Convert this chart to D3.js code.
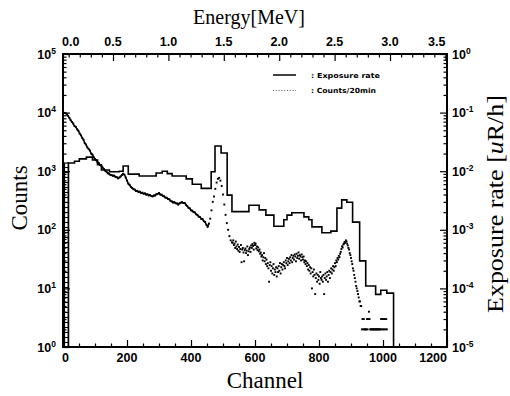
<!DOCTYPE html>
<html><head><meta charset="utf-8">
<script src="https://cdn.jsdelivr.net/npm/d3@7"></script>
<style>body{margin:0;background:#fff}svg{display:block}</style>
</head><body>
<svg id="c" width="510" height="396"></svg>
<script>
// ---------------- data ----------------
const channelTicks = [0, 200, 400, 600, 800, 1000, 1200];
const energyTicks = [0.0, 0.5, 1.0, 1.5, 2.0, 2.5, 3.0, 3.5];
const countDecades = [1, 10, 100, 1000, 10000, 100000];
const rateDecades = [1e-5, 1e-4, 1e-3, 1e-2, 1e-1, 1];
const calibOffset = 0.0487;   // MeV at channel 0
const calibGain = 0.002888;   // MeV per channel

// Exposure-rate histogram (uR/h), bin edges in channels
const rateEdges = [17, 36, 51, 73, 92, 108, 120, 145, 176, 188, 204, 238, 291, 310, 326, 341, 385, 404, 432, 463,
  475, 494, 513, 528, 581, 613, 634, 659, 690, 700, 715, 753, 768, 778, 809, 837, 856, 871, 887, 905, 927, 946,
  977, 993, 1012, 1033];
const rateValues = [1.38e-2, 1.48e-2, 1.62e-2, 1.74e-2, 1.55e-2, 1.29e-2, 1.05e-2, 9.8e-3, 1.0e-2, 1.23e-2,
  8.9e-3, 8.3e-3, 9.3e-3, 1.0e-2, 9.1e-3, 8.3e-3, 7.4e-3, 6.0e-3, 5.1e-3, 9.8e-3, 2.69e-2, 2.04e-2, 3.9e-3,
  2.04e-3, 2.63e-3, 2.19e-3, 1.78e-3, 1.15e-3, 1.48e-3, 1.78e-3, 1.95e-3, 1.66e-3, 1.48e-3, 1.12e-3, 8.9e-4,
  9.5e-4, 2.34e-3, 3.24e-3, 2.95e-3, 1.35e-3, 2.95e-4, 1.10e-4, 7.9e-5, 9.3e-5, 8.3e-5];

// Counts/20min: channels 0..528 every 4
const countsLowStart = 0, countsLowStep = 4;
const countsLow = [9600, 9900, 9800, 9300, 8800, 8100, 7400, 6900, 6500, 5900,
  5700, 5200, 4900, 4400, 4100, 3700, 3450, 3000, 2850, 2550,
  2400, 2250, 2000, 1920, 1730, 1620, 1540, 1410, 1370, 1280,
  1230, 1150, 1090, 1020, 980, 920, 905, 865, 855, 835,
  840, 800, 790, 755, 780, 810, 860, 905, 870, 780,
  690, 615, 585, 540, 520, 495, 485, 460, 462, 440,
  448, 425, 430, 412, 418, 398, 404, 385, 392, 376,
  372, 386, 384, 405, 410, 425, 400, 398, 380, 372,
  355, 352, 336, 332, 312, 305, 292, 296, 284, 282,
  270, 282, 290, 296, 286, 288, 268, 255, 238, 232,
  215, 212, 200, 198, 184, 180, 168, 165, 154, 152,
  140, 136, 122, 113, 128, 155, 215, 300, 370, 500,
  640, 740, 770, 690, 560, 400, 270, 180, 130, 100,
  78, 66, 61];
// channels 530..930 every 2
const countsMidStart = 530, countsMidStep = 2;
const countsMid = [60, 66, 55, 58, 49, 63, 52, 47, 56, 44,
  51, 42, 47, 55, 28, 46, 49, 41, 29, 45,
  48, 40, 44, 52, 37, 43, 47, 50, 42, 54,
  49, 57, 53, 46, 60, 55, 58, 48, 52, 45,
  50, 43, 46, 39, 41, 35, 37, 30, 34, 40,
  29, 33, 26, 31, 24, 27, 22, 13, 25, 28,
  20, 24, 18, 22, 26, 17, 21, 19, 23, 16,
  22, 19, 24, 20, 27, 18, 23, 26, 21, 25,
  28, 24, 22, 30, 27, 33, 25, 29, 32, 27,
  34, 30, 37, 28, 33, 36, 31, 38, 35, 29,
  39, 33, 36, 41, 32, 37, 35, 30, 38, 34,
  31, 35, 28, 30, 26, 29, 24, 27, 21, 25,
  20, 23, 18, 22, 10, 19, 16, 21, 17, 8,
  15, 18, 13, 17, 14, 16, 12, 19, 15, 14,
  16, 13, 17, 8, 15, 18, 14, 16, 19, 13,
  17, 20, 15, 19, 22, 18, 21, 24, 20, 23,
  27, 24, 30, 28, 33, 31, 36, 34, 39, 42,
  47, 52, 50, 56, 58, 62, 60, 66, 63, 58,
  54, 49, 46, 40, 37, 33, 29, 26, 22, 20,
  17, 15, 13, 11, 10, 9, 8, 7, 6, 6,
  5];
// channels 932..1012 every 2
const countsTailStart = 932, countsTailStep = 2;
const countsTail = [5, 2, 3, 2, 3, 2, 2, 2, 2, 3, 2, 3, 4, 3, 2, 2, 2, 2, 2, 2,
  2, 2, 2, 2, 2, 2, 2, 2, 2, 2, 2, 3, 2, 3, 2, 3, 2, 3, 2, 3, 2];

// ---------------- drawing ----------------
const M = {l: 63, r: 447, t: 54, b: 347};
const svg = d3.select('#c');
const x = d3.scaleLinear().domain([0, 1200]).range([M.l, M.r]);
const yC = d3.scaleLog().domain([1, 1e5]).range([M.b, M.t]);
const yR = d3.scaleLog().domain([1e-5, 1]).range([M.b, M.t]);
const E = ch => calibOffset + calibGain * ch;
const eScale = d3.scaleLinear().domain([E(0), E(1200)]).range([M.l, M.r]);

const tickFont = "'Liberation Sans', Arial, sans-serif";
const serif = "'Liberation Serif', 'Times New Roman', serif";

function styleAxis(g) {
  g.select('.domain').remove();
  g.selectAll('.tick line').attr('stroke', '#000').attr('stroke-width', 1.2);
  g.selectAll('.tick text').remove();
}

// minor tick helpers
const logMinor = decs => decs.slice(0, -1).flatMap(d => d3.range(2, 10).map(k => d * k));
const chMinor = d3.range(50, 1200, 50).filter(v => v % 200 !== 0);
const eMinor = d3.range(1, 36).map(v => v / 10).filter(v => v % 0.5 > 1e-6 && 0.5 - (v % 0.5) > 1e-6 && v > E(0) && v < E(1200));
const eMajor = energyTicks.filter(v => v > E(0) && v < E(1200));

// bottom axis
svg.append('g').attr('transform', `translate(0,${M.b})`)
  .call(d3.axisBottom(x).tickValues(channelTicks).tickSize(-7)).call(styleAxis);
svg.append('g').attr('transform', `translate(0,${M.b})`)
  .call(d3.axisBottom(x).tickValues(chMinor).tickSize(-3.5)).call(styleAxis);
// top axis
svg.append('g').attr('transform', `translate(0,${M.t})`)
  .call(d3.axisTop(eScale).tickValues(eMajor).tickSize(-7)).call(styleAxis);
svg.append('g').attr('transform', `translate(0,${M.t})`)
  .call(d3.axisTop(eScale).tickValues(eMinor).tickSize(-3.5)).call(styleAxis);
// left axis
svg.append('g').attr('transform', `translate(${M.l},0)`)
  .call(d3.axisLeft(yC).tickValues(countDecades).tickSize(-7)).call(styleAxis);
svg.append('g').attr('transform', `translate(${M.l},0)`)
  .call(d3.axisLeft(yC).tickValues(logMinor(countDecades)).tickSize(-3.5)).call(styleAxis);
// right axis
svg.append('g').attr('transform', `translate(${M.r},0)`)
  .call(d3.axisRight(yR).tickValues(rateDecades).tickSize(-7)).call(styleAxis);
svg.append('g').attr('transform', `translate(${M.r},0)`)
  .call(d3.axisRight(yR).tickValues(logMinor(rateDecades)).tickSize(-3.5)).call(styleAxis);

// frame
svg.append('rect').attr('x', M.l).attr('y', M.t).attr('width', M.r - M.l).attr('height', M.b - M.t)
  .attr('fill', 'none').attr('stroke', '#000').attr('stroke-width', 2);

// tick labels
const lab = svg.append('g').attr('font-family', tickFont).attr('font-weight', 'bold').attr('font-size', 12.5).attr('fill', '#000');
channelTicks.forEach((v, i) => {
  const anchor = i === 0 ? 'start' : (i === channelTicks.length - 1 ? 'end' : 'middle');
  lab.append('text').attr('x', x(v) + (i === 0 ? -1 : 0)).attr('y', M.b + 15).attr('text-anchor', anchor).text(v);
});
energyTicks.forEach((v, i) => {
  const anchor = i === 0 ? 'start' : (i === energyTicks.length - 1 ? 'end' : 'middle');
  const px = Math.max(M.l - 1, Math.min(M.r, eScale(v)));
  lab.append('text').attr('x', px).attr('y', M.t - 8).attr('text-anchor', anchor).text(v.toFixed(1));
});
countDecades.forEach(v => {
  const t = lab.append('text').attr('x', 56).attr('y', yC(v) + 4.5).attr('text-anchor', 'end');
  t.append('tspan').text('10');
  t.append('tspan').attr('dy', -5).attr('font-size', 8.5).text(Math.round(Math.log10(v)));
});
rateDecades.forEach(v => {
  const t = lab.append('text').attr('x', 452).attr('y', yR(v) + 4.5).attr('text-anchor', 'start');
  t.append('tspan').text('10');
  t.append('tspan').attr('dy', -5).attr('font-size', 8.5).text(Math.round(Math.log10(v)));
});

// axis titles
svg.append('text').attr('x', 249).attr('y', 24).attr('text-anchor', 'middle')
  .attr('font-family', serif).attr('font-size', 20).text('Energy[MeV]');
svg.append('text').attr('x', 265).attr('y', 388).attr('text-anchor', 'middle')
  .attr('font-family', serif).attr('font-size', 23).text('Channel');
svg.append('text').attr('transform', 'translate(27,198) rotate(-90)').attr('text-anchor', 'middle')
  .attr('font-family', serif).attr('font-size', 23).text('Counts');
const rt = svg.append('text').attr('transform', 'translate(503,204) rotate(-90)').attr('text-anchor', 'middle')
  .attr('font-family', serif).attr('font-size', 23).attr('textLength', 218).attr('lengthAdjust', 'spacingAndGlyphs');
rt.append('tspan').text('Exposure rate [');
rt.append('tspan').attr('font-style', 'italic').text('u');
rt.append('tspan').text('R/h]');

// clip
svg.append('clipPath').attr('id', 'plot').append('rect')
  .attr('x', M.l).attr('y', M.t).attr('width', M.r - M.l).attr('height', M.b - M.t);
const plot = svg.append('g').attr('clip-path', 'url(#plot)');

// ladder for the lowest channels (below threshold)
const defs = svg.append('defs');
const pat = defs.append('pattern').attr('id', 'ladder').attr('patternUnits', 'userSpaceOnUse')
  .attr('width', 8).attr('height', 5);
pat.append('line').attr('x1', 0).attr('x2', 8).attr('y1', 2.5).attr('y2', 2.5).attr('stroke', '#000').attr('stroke-width', 1.1);
plot.append('rect').attr('x', x(0) + 1.5).attr('y', yR(rateValues[0]))
  .attr('width', x(rateEdges[0]) - x(0) - 1.5).attr('height', M.b - yR(rateValues[0]))
  .attr('fill', 'url(#ladder)').attr('stroke', '#000').attr('stroke-width', 1.2);

// histogram of exposure rate
const histPts = [{c: rateEdges[0], y: M.b}];
rateValues.forEach((v, i) => histPts.push({c: rateEdges[i], y: yR(v)}));
histPts.push({c: rateEdges[rateEdges.length - 1], y: yR(rateValues[rateValues.length - 1])});
histPts.push({c: rateEdges[rateEdges.length - 1], y: M.b});
plot.append('path').datum(histPts)
  .attr('d', d3.line().x(d => x(d.c)).y(d => d.y).curve(d3.curveStepAfter))
  .attr('fill', 'none').attr('stroke', '#000').attr('stroke-width', 1.6);

// counts points
const counts = [
  ...countsLow.map((v, i) => ({c: countsLowStart + i * countsLowStep, v})),
  ...countsMid.map((v, i) => ({c: countsMidStart + i * countsMidStep, v})),
  ...countsTail.map((v, i) => ({c: countsTailStart + i * countsTailStep, v}))
];
// dense low-energy part: points so close they merge into a ragged line
plot.append('path').datum(counts.filter(d => d.c <= 456))
  .attr('d', d3.line().x(d => x(d.c)).y(d => yC(d.v)))
  .attr('fill', 'none').attr('stroke', '#000').attr('stroke-width', 1.5);
plot.append('g').selectAll('rect').data(counts).join('rect')
  .attr('x', d => x(d.c) - 0.95).attr('y', d => yC(d.v) - 0.95)
  .attr('width', 1.9).attr('height', 1.9).attr('fill', '#000');

// legend
const lg = svg.append('g');
lg.append('line').attr('x1', 273).attr('x2', 296).attr('y1', 75).attr('y2', 75)
  .attr('stroke', '#000').attr('stroke-width', 1.5);
lg.append('line').attr('x1', 273).attr('x2', 296).attr('y1', 90.5).attr('y2', 90.5)
  .attr('stroke', '#555').attr('stroke-width', 1).attr('stroke-dasharray', '1 1.8');
lg.append('text').attr('x', 311).attr('y', 77.5).attr('font-family', "'DejaVu Sans', sans-serif")
  .attr('font-weight', 'bold').attr('font-size', 7).attr('textLength', 69).attr('lengthAdjust', 'spacingAndGlyphs')
  .text(': Exposure rate');
lg.append('text').attr('x', 311).attr('y', 93).attr('font-family', "'DejaVu Sans', sans-serif")
  .attr('font-weight', 'bold').attr('font-size', 7).attr('textLength', 65).attr('lengthAdjust', 'spacingAndGlyphs')
  .text(': Counts/20min');
</script>
</body></html>
